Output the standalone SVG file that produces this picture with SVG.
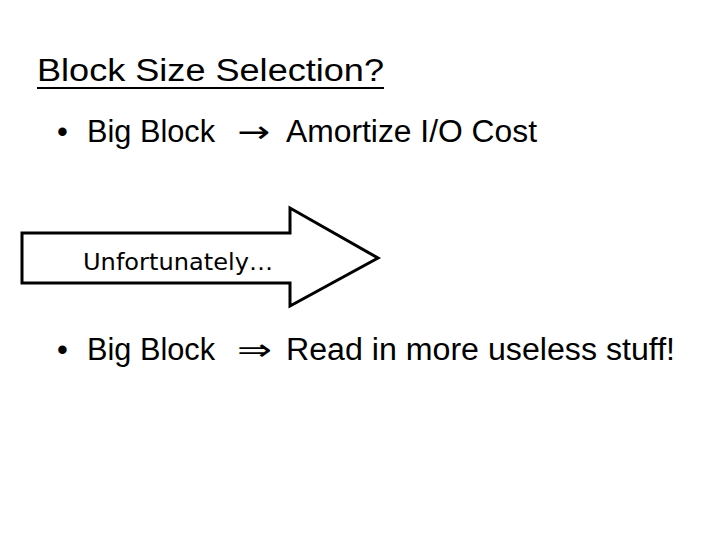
<svg xmlns="http://www.w3.org/2000/svg" width="720" height="540" viewBox="0 0 720 540">
<style>
.t{font-family:"Liberation Sans",Arial,sans-serif;font-size:31px;fill:#000}
.s{font-family:"DejaVu Sans",sans-serif;font-size:30px;fill:#000}
</style>
<rect width="720" height="540" fill="#fff"/>
<g id="title"><text class="t" x="37" y="81" font-size="32" textLength="347" lengthAdjust="spacingAndGlyphs">Block Size Selection?</text><line x1="37" y1="88" x2="384" y2="88" stroke="#000" stroke-width="2"/></g>
<g id="bullet1">
<text class="t" x="57" y="142">•</text>
<text class="t" x="87" y="142" textLength="128" lengthAdjust="spacingAndGlyphs">Big Block</text>
<text class="s" x="237" y="142" textLength="33" lengthAdjust="spacingAndGlyphs">→</text>
<text class="t" x="286" y="142" textLength="251" lengthAdjust="spacingAndGlyphs">Amortize I/O Cost</text>
</g>
<g id="arrow">
<polygon points="22,233 290,233 290,208 378,258 290,306 290,283 22,283" fill="#fff" stroke="#000" stroke-width="3"/>
<text x="83" y="270" font-family="DejaVu Sans,sans-serif" font-size="23" textLength="190" lengthAdjust="spacingAndGlyphs">Unfortunately…</text>
</g>
<g id="bullet2">
<text class="t" x="57" y="360">•</text>
<text class="t" x="87" y="360" textLength="128" lengthAdjust="spacingAndGlyphs">Big Block</text>
<text class="s" x="237" y="360" textLength="35" lengthAdjust="spacingAndGlyphs">⇒</text>
<text class="t" x="286" y="360" textLength="389" lengthAdjust="spacingAndGlyphs">Read in more useless stuff!</text>
</g>
</svg>
